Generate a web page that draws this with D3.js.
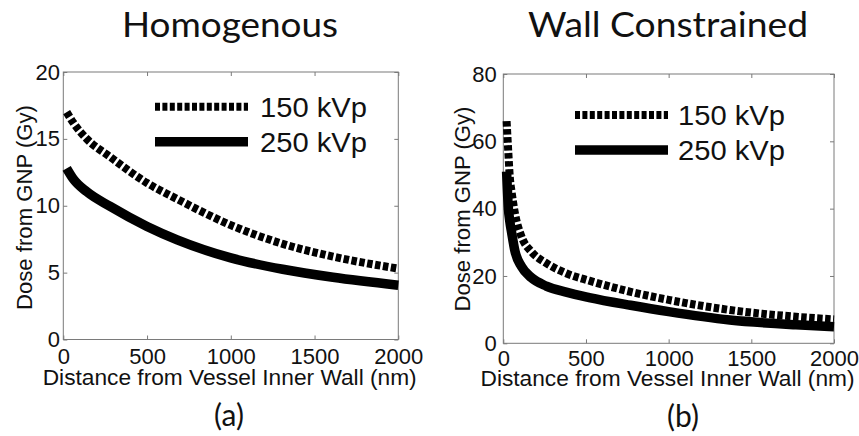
<!DOCTYPE html>
<html><head><meta charset="utf-8">
<script src="https://cdn.jsdelivr.net/npm/d3@7"></script>
<style>
html,body{margin:0;padding:0;background:#fff;}
svg{display:block;}
text{font-family:"Liberation Sans",Arial,sans-serif;fill:#111;}
.cal{font-family:Lato,"Open Sans",sans-serif;}
</style></head>
<body>
<svg id="c" width="859" height="436"></svg>
<script>
// ---- data ----
const xTicks = [0, 500, 1000, 1500, 2000];
const yTicksA = [0, 5, 10, 15, 20];
const yTicksB = [0, 20, 40, 60, 80];
const seriesNames = ["150 kVp", "250 kVp"];
const titles = ["Homogenous", "Wall Constrained"];
const panelLabels = ["(a)", "(b)"];
const xLabel = "Distance from Vessel Inner Wall (nm)";
const yLabel = "Dose from GNP (Gy)";

// Homogenous
const distA   = [20, 60, 140, 280, 500, 680, 1000, 1310, 1610, 2000];
const homo150 = [17.0, 16.2, 15.0, 13.65, 11.7, 10.5, 8.55, 7.15, 6.2, 5.3];
const homo250 = [12.8, 12.0, 11.05, 9.95, 8.45, 7.45, 6.1, 5.25, 4.65, 4.06];

// Wall constrained
const distB   = [20, 30, 40, 50, 70, 110, 170, 260, 380, 520, 770, 1000, 1370, 1770, 2000];
const wall150 = [66, 57, 49, 45, 38.7, 31.7, 27.2, 23.8, 20.8, 18.6, 15.3, 12.9, 9.9, 7.9, 7.1];
const wall250 = [51, 40.6, 36, 33, 27.5, 22.8, 19.5, 17.0, 15.2, 13.6, 11.3, 9.4, 6.9, 5.5, 4.95];

// ---- drawing ----
const svg = d3.select("#c");
const gray = "#7a7a7a";

const panels = [
  {L:63.3, R:398.3, T:72, B:339.5, ymax:20, yt:yTicksA, x:distA, s:[homo150, homo250],
   yPad:3.3, xPad:9, xLabY:385, xLabX:229.7, yLabX:31.7, yLabY:207.5,
   legX1:155, legX2:248, legY:[106.7,141.7], legTX:260, legTY:[116.7,151.7],
   titleX:230, titleY:36.7, titleW:216, plX:229, plY:426},
  {L:503.3, R:834, T:74, B:343.3, ymax:80, yt:yTicksB, x:distB, s:[wall150, wall250],
   yPad:6.6, xPad:6.8, xLabY:386, xLabX:667.5, yLabX:470, yLabY:209,
   legX1:575, legX2:668, legY:[115,150], legTX:678, legTY:[125,160],
   titleX:668, titleY:37, titleW:280, plX:683, plY:427}
];

panels.forEach((p, i) => {
  const x = d3.scaleLinear().domain([0, 2000]).range([p.L, p.R]);
  const y = d3.scaleLinear().domain([0, p.ymax]).range([p.B, p.T]);
  const g = svg.append("g");

  // axes
  const ax = [
    g.append("g").attr("transform", `translate(0,${p.B})`)
      .call(d3.axisBottom(x).tickValues(xTicks).tickSize(-4).tickPadding(p.xPad).tickFormat(d3.format("d"))),
    g.append("g").attr("transform", `translate(0,${p.T})`)
      .call(d3.axisTop(x).tickValues(xTicks).tickSize(-4).tickFormat("")),
    g.append("g").attr("transform", `translate(${p.L},0)`)
      .call(d3.axisLeft(y).tickValues(p.yt).tickSize(-4).tickPadding(p.yPad).tickFormat(d3.format("d"))),
    g.append("g").attr("transform", `translate(${p.R},0)`)
      .call(d3.axisRight(y).tickValues(p.yt).tickSize(-4).tickFormat(""))
  ];
  ax.forEach(a => {
    a.select(".domain").remove();
    a.selectAll(".tick line").attr("stroke", gray);
    a.selectAll(".tick text").attr("font-size", 22).attr("fill", "#111")
      .attr("font-family", '"Liberation Sans",Arial,sans-serif');
  });
  g.append("rect").attr("x", p.L).attr("y", p.T).attr("width", p.R - p.L).attr("height", p.B - p.T)
    .attr("fill", "none").attr("stroke", gray).attr("stroke-width", 1);

  // lines
  const line = d3.line().x((d, j) => x(p.x[j])).y(d => y(d)).curve(d3.curveMonotoneX);
  g.append("path").datum(p.s[1]).attr("d", line).attr("fill", "none")
    .attr("stroke", "#000").attr("stroke-width", 9.5);
  g.append("path").datum(p.s[0]).attr("d", line).attr("fill", "none")
    .attr("stroke", "#000").attr("stroke-width", 8).attr("stroke-dasharray", "5.5,2.5");

  // legend
  seriesNames.forEach((n, k) => {
    g.append("line").attr("x1", p.legX1).attr("x2", p.legX2).attr("y1", p.legY[k]).attr("y2", p.legY[k])
      .attr("stroke", "#000").attr("stroke-width", k === 0 ? 8 : 9.5)
      .attr("stroke-dasharray", k === 0 ? "5,2.4" : null);
    g.append("text").attr("x", p.legTX).attr("y", p.legTY[k]).attr("font-size", 28)
      .attr("textLength", 107).attr("lengthAdjust", "spacingAndGlyphs").text(n);
  });

  // axis labels
  g.append("text").attr("x", p.xLabX).attr("y", p.xLabY).attr("text-anchor", "middle")
    .attr("font-size", 22.5).attr("textLength", 374).attr("lengthAdjust", "spacingAndGlyphs").text(xLabel);
  g.append("text").attr("transform", `translate(${p.yLabX},${p.yLabY}) rotate(-90)`)
    .attr("text-anchor", "middle").attr("font-size", 22)
    .attr("textLength", 205).attr("lengthAdjust", "spacingAndGlyphs").text(yLabel);

  // title and panel label
  g.append("text").attr("class", "cal").attr("x", p.titleX).attr("y", p.titleY).attr("text-anchor", "middle")
    .attr("font-size", 35).attr("textLength", p.titleW).attr("lengthAdjust", "spacingAndGlyphs").text(titles[i]);
  g.append("text").attr("class", "cal").attr("x", p.plX).attr("y", p.plY).attr("text-anchor", "middle")
    .attr("font-size", 30).text(panelLabels[i]);
});
</script>
</body></html>
